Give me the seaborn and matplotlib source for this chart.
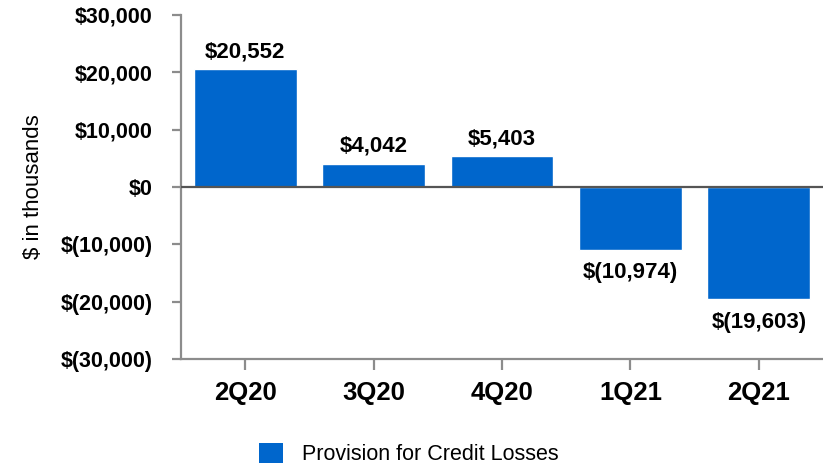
import matplotlib
matplotlib.use("Agg")
import matplotlib.pyplot as plt
import seaborn as sns
import pandas as pd
from matplotlib.patches import Patch
from matplotlib.ticker import FuncFormatter

# --- dados ---
quarters = ["2Q20", "3Q20", "4Q20", "1Q21", "2Q21"]
provision = [20552, 4042, 5403, -10974, -19603]
series_name = "Provision for Credit Losses"
y_ticks = [-30000, -20000, -10000, 0, 10000, 20000, 30000]

bar_color = "#0066CC"
axis_gray = "#8C8C8C"

sns.set_style("white")
plt.rcParams["font.family"] = ["Liberation Sans", "DejaVu Sans"]
plt.rcParams["text.color"] = "black"
plt.rcParams["axes.labelcolor"] = "black"
plt.rcParams["xtick.labelcolor"] = "black"
plt.rcParams["ytick.labelcolor"] = "black"

df = pd.DataFrame({"quarter": quarters, "value": provision})

fig = plt.figure(figsize=(8.23, 4.67), dpi=100)
ax = fig.add_axes([181 / 823, 1 - 359 / 467, 1 - 181 / 823, (359 - 15) / 467])

sns.barplot(data=df, x="quarter", y="value", color=bar_color, saturation=1,
            width=0.8, ax=ax)

ax.set_ylim(-30000, 30000)
ax.set_xlim(-0.5, 4.5)
ax.set_yticks(y_ticks)


def money(v, pos=None):
    if v < 0:
        return f"$({abs(v):,.0f})"
    return f"${v:,.0f}"


ax.yaxis.set_major_formatter(FuncFormatter(money))

# linha do zero
ax.axhline(0, color="#555555", lw=1.6, zorder=3)

# rótulos das barras
for i, v in enumerate(provision):
    if v >= 0:
        ax.annotate(money(v), (i, v), xytext=(0, 5), textcoords="offset points",
                    ha="center", va="bottom", fontsize=16, fontweight="bold")
    else:
        ax.annotate(money(v), (i, v), xytext=(0, -9), textcoords="offset points",
                    ha="center", va="top", fontsize=16, fontweight="bold")

for s in ["top", "right"]:
    ax.spines[s].set_visible(False)
for s in ["left", "bottom"]:
    ax.spines[s].set_color(axis_gray)
    ax.spines[s].set_linewidth(1.6)

ax.tick_params(axis="y", direction="out", length=6.5, width=1.6, color=axis_gray,
               labelsize=15.5, pad=14, left=True, labelcolor="black")
ax.tick_params(axis="x", direction="out", length=8, width=1.6, color=axis_gray,
               labelsize=18.5, pad=8, bottom=True, labelcolor="black")
for lbl in ax.get_xticklabels() + ax.get_yticklabels():
    lbl.set_fontweight("bold")

ax.set_xlabel("")
ax.set_ylabel("$ in thousands", fontsize=16, labelpad=12, color="black")

handles = [Patch(facecolor=bar_color, edgecolor="none", label=series_name)]
fig.legend(handles=handles, loc="center", bbox_to_anchor=(409 / 823, 1 - 454 / 467),
           frameon=False, fontsize=15.5, handlelength=1.1, handleheight=1.1,
           handletextpad=0.9, labelcolor="black")

fig.savefig("out.png", dpi=100)
